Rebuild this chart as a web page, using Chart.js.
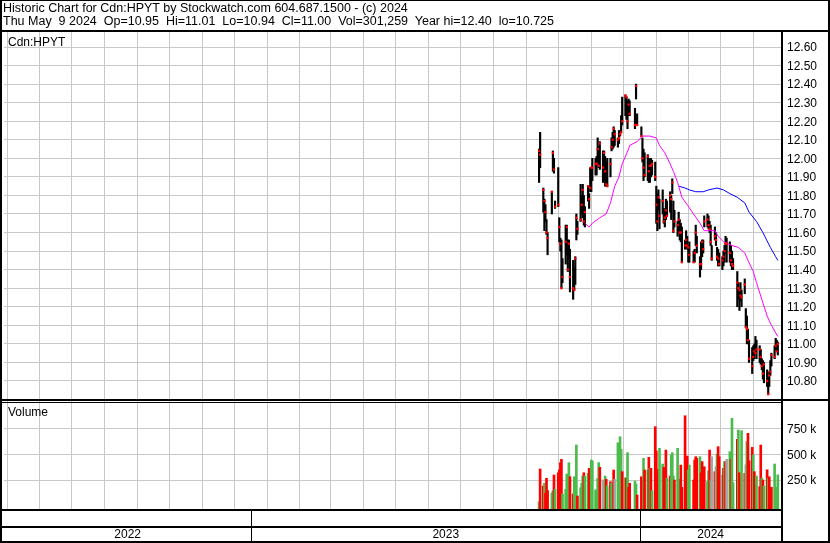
<!DOCTYPE html>
<html>
<head>
<meta charset="utf-8">
<script src="https://cdn.jsdelivr.net/npm/chart.js@4.4.1/dist/chart.umd.min.js"></script>
<style>
html, body { margin: 0; padding: 0; background: #fff; }
#wrap { position: relative; width: 830px; height: 543px; font-family: "Liberation Sans", Arial, sans-serif; }
#wrap canvas { position: absolute; left: 0; top: 0; }
#hdr { position: absolute; left: 3px; top: 2px; font-size: 12.5px; line-height: 13px; white-space: pre; color: #000; }
.lbl { position: absolute; left: 8px; font-size: 12px; color: #000; }
</style>
</head>
<body>
<div id="wrap">
  <canvas id="chart" width="830" height="543"></canvas>
  <div id="hdr">Historic Chart for Cdn:HPYT by Stockwatch.com 604.687.1500 - (c) 2024
Thu May  9 2024  Op=10.95  Hi=11.01  Lo=10.94  Cl=11.00  Vol=301,259  Year hi=12.40  lo=10.725</div>
  <div class="lbl" style="top:35px">Cdn:HPYT</div>
  <div class="lbl" style="top:405px">Volume</div>
</div>
<script>
// trading days: weekdays from first to last session, minus TSX holidays
const firstSession = '2023-09-28';
const lastSession = '2024-05-09';
const holidays = ['2023-10-09', '2023-12-25', '2023-12-26', '2024-01-01', '2024-02-19', '2024-03-29'];

const high = [
  12.05, 12.14, 11.84, 11.78, 11.75, 11.67, 11.60, 11.82, 12.04, 12.00,
  11.77, 11.95, 11.68, 11.57, 11.56, 11.46, 11.64, 11.64, 11.56, 11.56,
  11.51, 11.45, 11.41, 11.47, 11.70, 11.66, 11.86, 11.80, 11.86, 11.80,
  11.74, 11.85, 11.81, 11.95, 11.95, 12.00, 12.00, 12.01, 12.11, 12.06,
  12.09, 12.04, 12.04, 12.01, 11.98, 12.00, 12.00, 12.11, 12.14, 12.17,
  12.15, 12.11, 12.15, 12.15, 12.23, 12.33, 12.34, 12.33, 12.31, 12.32,
  12.31, 12.27, 12.40, 12.24, 12.17, 12.11, 12.05, 12.03, 12.02, 12.00,
  12.00, 12.00, 11.99, 11.98, 11.85, 11.81, 11.83, 11.78, 11.83, 11.73,
  11.72, 11.78, 11.77, 11.82, 11.80, 11.89, 11.77, 11.72, 11.66, 11.71,
  11.67, 11.65, 11.63, 11.56, 11.61, 11.58, 11.53, 11.55, 11.50, 11.51,
  11.64, 11.58, 11.47, 11.55, 11.56, 11.56, 11.69, 11.70, 11.69, 11.66,
  11.64, 11.53, 11.63, 11.60, 11.52, 11.51, 11.49, 11.47, 11.50, 11.53,
  11.58, 11.57, 11.55, 11.53, 11.50, 11.46, 11.39, 11.33, 11.29, 11.33,
  11.29, 11.35, 11.19, 11.15, 11.08, 11.02, 10.98, 10.99, 11.00, 11.04,
  11.02, 10.99, 10.97, 10.92, 10.91, 10.90, 10.86, 10.82, 10.85, 10.91,
  10.95, 10.99, 11.03, 11.02, 11.01
];
const low = [
  11.87, 11.95, 11.71, 11.61, 11.66, 11.59, 11.48, 11.70, 11.93, 11.92,
  11.73, 11.74, 11.55, 11.50, 11.30, 11.33, 11.43, 11.48, 11.39, 11.46,
  11.28, 11.24, 11.29, 11.32, 11.56, 11.59, 11.66, 11.70, 11.68, 11.64,
  11.63, 11.77, 11.73, 11.82, 11.82, 11.88, 11.91, 11.91, 11.98, 11.95,
  11.94, 11.87, 11.88, 11.85, 11.85, 11.85, 11.90, 12.04, 12.05, 12.06,
  12.07, 12.06, 12.08, 12.12, 12.14, 12.18, 12.23, 12.21, 12.16, 12.23,
  12.23, 12.16, 12.32, 12.18, 12.12, 11.98, 11.88, 11.90, 11.88, 11.87,
  11.87, 11.90, 11.91, 11.88, 11.65, 11.61, 11.72, 11.62, 11.70, 11.65,
  11.63, 11.67, 11.69, 11.71, 11.67, 11.81, 11.60, 11.63, 11.58, 11.60,
  11.56, 11.55, 11.44, 11.51, 11.55, 11.51, 11.44, 11.44, 11.44, 11.44,
  11.53, 11.49, 11.36, 11.40, 11.47, 11.49, 11.63, 11.63, 11.62, 11.60,
  11.53, 11.45, 11.56, 11.53, 11.45, 11.42, 11.42, 11.40, 11.42, 11.44,
  11.49, 11.44, 11.44, 11.42, 11.40, 11.40, 11.20, 11.24, 11.18, 11.23,
  11.20, 11.27, 11.09, 11.00, 11.00, 10.90, 10.84, 10.91, 10.92, 10.95,
  10.92, 10.90, 10.89, 10.86, 10.81, 10.79, 10.77, 10.725, 10.77, 10.83,
  10.88, 10.92, 10.97, 10.96, 10.94
];
const close = [
  12.04, 12.02, 11.83, 11.77, 11.71, 11.60, 11.57, 11.82, 12.03, 11.94,
  11.74, 11.75, 11.63, 11.54, 11.30, 11.36, 11.55, 11.63, 11.40, 11.54,
  11.36, 11.30, 11.29, 11.46, 11.68, 11.62, 11.67, 11.75, 11.83, 11.66,
  11.71, 11.85, 11.78, 11.84, 11.95, 11.95, 11.97, 11.97, 12.05, 11.96,
  12.08, 11.95, 12.03, 11.93, 11.86, 11.85, 11.97, 12.06, 12.10, 12.16,
  12.13, 12.10, 12.11, 12.13, 12.14, 12.20, 12.34, 12.33, 12.20, 12.29,
  12.24, 12.18, 12.39, 12.18, 12.12, 12.00, 11.95, 11.91, 12.01, 11.93,
  11.96, 11.96, 11.97, 11.90, 11.75, 11.66, 11.79, 11.69, 11.77, 11.66,
  11.68, 11.72, 11.69, 11.80, 11.78, 11.87, 11.61, 11.66, 11.64, 11.67,
  11.60, 11.60, 11.44, 11.53, 11.56, 11.53, 11.52, 11.48, 11.44, 11.49,
  11.60, 11.53, 11.43, 11.43, 11.55, 11.51, 11.66, 11.67, 11.64, 11.62,
  11.55, 11.46, 11.58, 11.56, 11.47, 11.46, 11.43, 11.45, 11.47, 11.50,
  11.54, 11.54, 11.49, 11.45, 11.43, 11.42, 11.33, 11.30, 11.29, 11.26,
  11.25, 11.32, 11.09, 11.08, 11.02, 10.92, 10.88, 10.93, 10.96, 10.95,
  10.97, 10.97, 10.93, 10.88, 10.84, 10.89, 10.80, 10.73, 10.83, 10.85,
  10.94, 10.93, 10.99, 10.96, 11.00
];
// volume in thousands of shares
const volumeK = [
  41, 358, 193, 219, 123, 268, 150, 126, 148, 300,
  161, 322, 348, 419, 451, 116, 161, 309, 251, 419,
  283, 116, 283, 268, 590, 97, 177, 219, 290, 322,
  290, 316, 364, 290, 445, 435, 155, 155, 268, 419,
  374, 251, 203, 290, 258, 193, 235, 219, 225, 348,
  258, 612, 493, 670, 548, 332, 274, 268, 515, 180,
  220, 240, 213, 106, 283, 251, 461, 348, 348, 471,
  364, 364, 148, 767, 532, 300, 355, 558, 406, 374,
  341, 541, 268, 290, 493, 515, 290, 251, 558, 260,
  193, 396, 181, 873, 251, 483, 348, 396, 251, 445,
  477, 461, 477, 320, 429, 341, 380, 235, 341, 541,
  251, 477, 332, 380, 503, 574, 477, 300, 364, 429,
  429, 451, 525, 451, 848, 225, 645, 735, 322, 268,
  728, 316, 400, 622, 703, 438, 567, 493, 332, 203,
  290, 187, 590, 268, 251, 193, 350, 268, 283, 161,
  181, 406, 181, 171, 301.259
];
// u = close up, d = close down, n = unchanged
const dayChange = (
  'uddudddu' + 'ududdddu' + 'uuuudduu' + 'udu' + 'uuduuddu' + 'uuuuud' +
  'nnududuudn' + 'uuuudududdu' +
  'udddudud' + 'udu' + 'dddduudd' + 'dudu' + 'uuduuudd' + 'ddduudddd' + 'u' +
  'ddddu' + 'udund' + 'nuddndudnu' + 'duududdudn' + 'udddu' + 'ddudd' +
  'udududdduu' + 'uudu'
).split('');

// moving averages, keyed by trading-day index
const maFastIdx = [30, 32, 35, 40, 44, 46, 50, 52, 55, 59, 60, 63, 65, 70, 74, 77, 80, 83, 86, 88,
  92, 95, 98, 102, 106, 112, 115, 118, 124, 127, 131, 134, 137, 140, 143, 146, 150, 154];
const maFastVal = [11.65, 11.63, 11.65, 11.68, 11.70, 11.76, 11.85, 11.90, 11.97, 12.05, 12.07, 12.09,
  12.12, 12.12, 12.11, 12.07, 12.03, 11.97, 11.93, 11.87, 11.79, 11.75, 11.70, 11.65, 11.61, 11.61,
  11.58, 11.55, 11.53, 11.52, 11.49, 11.45, 11.39, 11.33, 11.24, 11.15, 11.10, 11.04];
const maSlowIdx = [89, 93, 97, 100, 105, 108, 114, 118, 122, 126, 131, 135, 140, 144, 149, 152, 154];
const maSlowVal = [11.85, 11.84, 11.83, 11.82, 11.82, 11.83, 11.84, 11.83, 11.81, 11.79, 11.76,
  11.71, 11.66, 11.60, 11.52, 11.47, 11.45];

const priceTicks = [10.8, 10.9, 11.0, 11.1, 11.2, 11.3, 11.4, 11.5, 11.6, 11.7, 11.8, 11.9,
  12.0, 12.1, 12.2, 12.3, 12.4, 12.5, 12.6];
const volumeTicks = [250, 500, 750];
const yearLabels = ['2022', '2023', '2024'];
const yearStarts = ['2022-01-01', '2023-01-01', '2024-01-01', '2025-01-01'];

const dayNum = iso => (Date.parse(iso) - Date.parse('2023-01-01')) / 864e5;

const tradeDays = [];
for (let t = Date.parse(firstSession); t <= Date.parse(lastSession); t += 864e5) {
  const d = new Date(t);
  const iso = d.toISOString().slice(0, 10);
  if (d.getUTCDay() === 0 || d.getUTCDay() === 6 || holidays.includes(iso)) continue;
  tradeDays.push(iso);
}
const xs = tradeDays.map(dayNum);

const monthTicks = [];
for (let y = 2022, m = 5; y < 2024 || m <= 4; m++) {
  if (m > 11) { m = 0; y++; }
  monthTicks.push(Date.UTC(y, m, 1));
  if (y === 2024 && m === 4) break;
}
const monthVals = monthTicks.map(t => (t - Date.parse('2023-01-01')) / 864e5);

const dirColor = { u: '#4cbb4c', d: '#ff0000', n: '#a6a6a6' };
const font = { family: '"Liberation Sans", Arial, sans-serif', size: 12 };
const gridColor = '#c8c8c8';

const framePlugin = {
  id: 'frame',
  afterDraw(chart) {
    const { ctx, chartArea: a, scales } = chart;
    const W = chart.width, H = chart.height;
    const sep = scales.y.bottom;
    ctx.save();
    ctx.fillStyle = '#000';
    // outer border and header rule
    ctx.fillRect(0, 0, W, 1);
    ctx.fillRect(0, 0, 2, H);
    ctx.fillRect(W - 2, 0, 2, H);
    ctx.fillRect(0, H - 2, W, 2);
    ctx.fillRect(0, a.top - 2, W, 2);
    // price / volume separator
    ctx.fillRect(0, sep - 2, W, 2);
    ctx.fillRect(0, sep + 1, a.right, 1);
    // right edge of plot
    ctx.fillRect(a.right, a.top - 2, 2, H - a.top + 2);
    // year band
    ctx.fillRect(0, a.bottom, a.right, 2);
    ctx.fillRect(0, a.bottom + 17, a.right, 2);
    ctx.font = '12px "Liberation Sans", Arial, sans-serif';
    ctx.textAlign = 'center';
    ctx.textBaseline = 'middle';
    for (let i = 0; i < yearLabels.length; i++) {
      const x0 = Math.max(a.left, scales.x.getPixelForValue(dayNum(yearStarts[i])));
      const x1 = Math.min(a.right, scales.x.getPixelForValue(dayNum(yearStarts[i + 1])));
      if (x0 > a.left) ctx.fillRect(Math.round(x0), a.bottom, 1, H - a.bottom);
      ctx.fillText(yearLabels[i], (x0 + x1) / 2, a.bottom + 26);
    }
    ctx.restore();
  }
};

new Chart(document.getElementById('chart'), {
  type: 'bar',
  data: {
    datasets: [
      {
        label: 'Close',
        type: 'line',
        showLine: false,
        data: xs.map((x, i) => ({ x: x, y: close[i] })),
        pointStyle: 'rect',
        pointRadius: 1.6,
        pointBorderWidth: 0,
        pointBackgroundColor: '#ff0000',
        yAxisID: 'y'
      },
      {
        label: 'MA fast',
        type: 'line',
        data: maFastIdx.map((k, i) => ({ x: xs[k], y: maFastVal[i] })),
        borderColor: '#ff00ff',
        borderWidth: 1,
        pointRadius: 0,
        yAxisID: 'y'
      },
      {
        label: 'MA slow',
        type: 'line',
        data: maSlowIdx.map((k, i) => ({ x: xs[k], y: maSlowVal[i] })),
        borderColor: '#0000ff',
        borderWidth: 1,
        pointRadius: 0,
        yAxisID: 'y'
      },
      {
        label: 'High-Low',
        data: xs.map((x, i) => ({ x: x, y: [low[i], high[i]] })),
        backgroundColor: '#000',
        barThickness: 1.5,
        grouped: false,
        borderWidth: 0,
        yAxisID: 'y'
      },
      {
        label: 'Volume',
        data: xs.map((x, i) => ({ x: x, y: volumeK[i] })),
        backgroundColor: dayChange.map(c => dirColor[c]),
        barThickness: 2,
        grouped: false,
        borderWidth: 0,
        base: -29,
        yAxisID: 'y2'
      }
    ]
  },
  options: {
    responsive: false,
    animation: false,
    events: [],
    layout: { padding: { top: 32, left: 2, right: 2, bottom: 0 } },
    plugins: { legend: { display: false }, tooltip: { enabled: false } },
    scales: {
      x: {
        type: 'linear',
        min: -232,
        max: 497,
        offset: false,
        afterBuildTicks: s => { s.ticks = monthVals.map(v => ({ value: v })); },
        afterFit: s => { s.height = 34; },
        grid: { color: gridColor, drawTicks: false },
        border: { display: false },
        ticks: { display: false }
      },
      y: {
        position: 'right',
        stack: 'panels',
        stackWeight: 369,
        min: 10.692,
        max: 12.681,
        afterBuildTicks: s => { s.ticks = priceTicks.map(v => ({ value: v })); },
        afterFit: s => { s.width = 47; },
        grid: { color: gridColor, drawTicks: false },
        border: { display: false },
        ticks: { color: '#000', font: font, padding: 6, autoSkip: false, labelOffset: 1,
          callback: v => Number(v).toFixed(2) }
      },
      y2: {
        position: 'right',
        stack: 'panels',
        stackWeight: 108,
        min: -29,
        max: 1015.5,
        afterBuildTicks: s => { s.ticks = volumeTicks.map(v => ({ value: v })); },
        afterFit: s => { s.width = 47; },
        grid: { color: gridColor, drawTicks: false },
        border: { display: false },
        ticks: { color: '#000', font: font, padding: 6, autoSkip: false, labelOffset: 1,
          callback: v => v + ' k' }
      }
    }
  },
  plugins: [framePlugin]
});
</script>
</body>
</html>
